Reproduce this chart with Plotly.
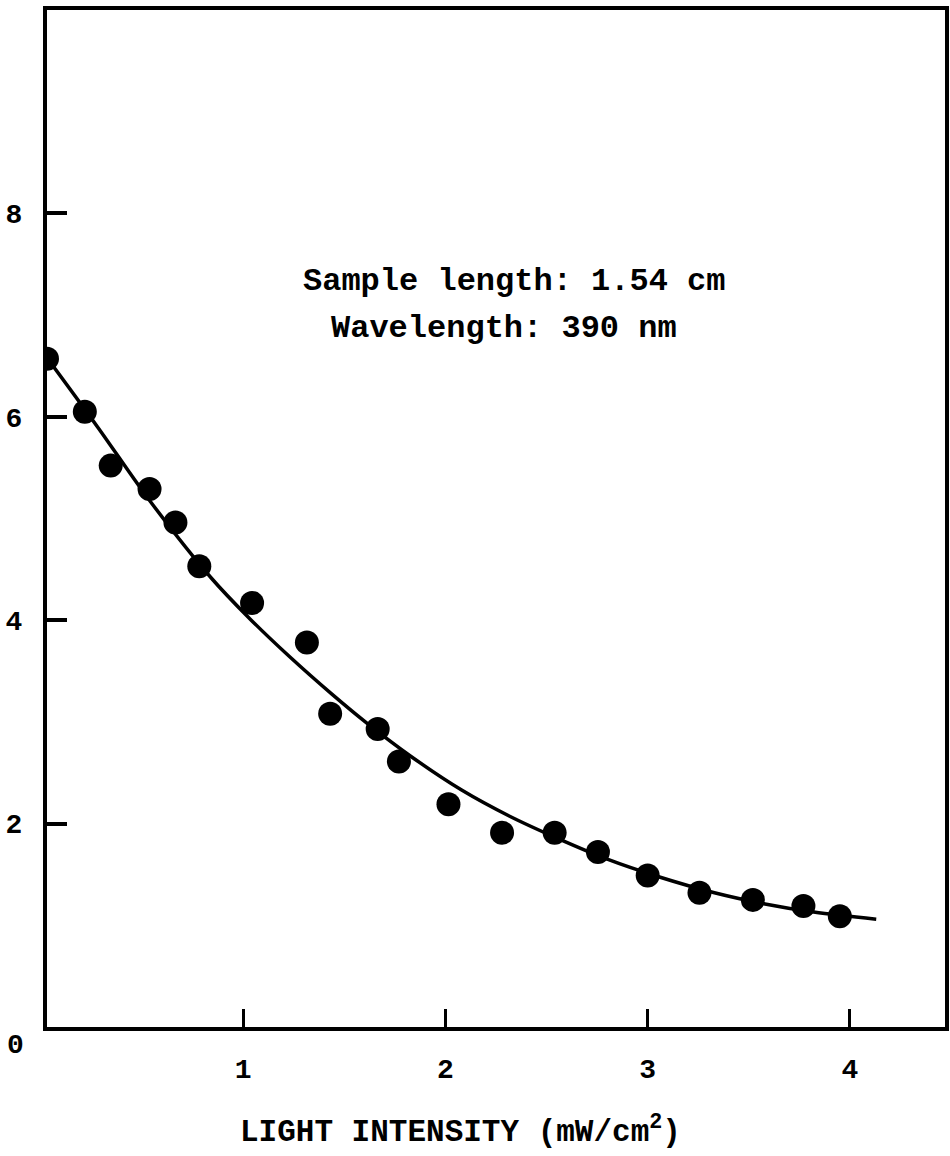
import plotly.graph_objects as go

# Measured data points
x_pts = [0.03, 0.217, 0.345, 0.537, 0.665, 0.783, 1.044, 1.315, 1.43, 1.665, 1.77,
         2.015, 2.28, 2.54, 2.754, 3.0, 3.256, 3.52, 3.77, 3.95]
y_pts = [6.57, 6.05, 5.52, 5.29, 4.96, 4.53, 4.17, 3.78, 3.08, 2.93, 2.61,
         2.19, 1.91, 1.91, 1.72, 1.49, 1.32, 1.25, 1.19, 1.09]

# Fitted curve
x_fit = [0.03, 0.28, 0.54, 0.84, 1.03, 1.23, 1.44, 1.61, 1.83, 2.08, 2.32,
         2.56, 2.80, 3.05, 3.33, 3.58, 3.82, 4.13]
y_fit = [6.58, 5.90, 5.17, 4.42, 4.02, 3.64, 3.27, 2.99, 2.66, 2.33, 2.07,
         1.85, 1.65, 1.48, 1.32, 1.21, 1.13, 1.06]

x_ticks = [1, 2, 3, 4]
x_tick_labels = ["1", "2", "3", "4"]
y_ticks = [2, 4, 6, 8]
y_tick_labels = ["2", "4", "6", "8"]

FONT = "Liberation Mono"

fig = go.Figure()
fig.add_trace(go.Scatter(x=x_fit, y=y_fit, mode="lines",
                         line=dict(color="black", width=3.5, shape="spline", smoothing=1.0),
                         hoverinfo="skip", showlegend=False))
fig.add_trace(go.Scatter(x=x_pts, y=y_pts, mode="markers",
                         marker=dict(color="black", size=24), showlegend=False))

fig.update_layout(
    width=950, height=1156,
    margin=dict(l=47, r=1, t=10, b=129),
    plot_bgcolor="white", paper_bgcolor="white",
    font=dict(family=FONT, color="black"),
    showlegend=False,
)
fig.update_xaxes(range=[0.03, 4.47], tickvals=x_ticks, ticktext=x_tick_labels,
                 ticks="inside", ticklen=18, tickwidth=3, tickcolor="black",
                 showline=True, linewidth=4, linecolor="black", mirror=True,
                 showgrid=False, zeroline=False, ticklabelstandoff=13,
                 tickfont=dict(family=FONT, size=28, color="black", weight="bold"))
fig.update_yaxes(range=[0, 10], tickvals=y_ticks, ticktext=y_tick_labels,
                 ticks="inside", ticklen=20, tickwidth=4, tickcolor="black",
                 showline=True, linewidth=4, linecolor="black", mirror=True,
                 showgrid=False, zeroline=False, ticklabelstandoff=15,
                 tickfont=dict(family=FONT, size=28, color="black", weight="bold"))

fig.add_annotation(x=2.34, y=7.33, xref="x", yref="y", text="Sample length: 1.54 cm",
                   showarrow=False, font=dict(family=FONT, size=32, color="black", weight="bold"))
fig.add_annotation(x=2.29, y=6.87, xref="x", yref="y", text="Wavelength: 390 nm",
                   showarrow=False, font=dict(family=FONT, size=32, color="black", weight="bold"))
fig.add_annotation(x=-0.035, y=-0.018, xref="paper", yref="paper", text="0",
                   showarrow=False, xanchor="center", yanchor="middle",
                   font=dict(family=FONT, size=28, color="black", weight="bold"))
fig.add_annotation(x=0.46, y=-0.101, xref="paper", yref="paper",
                   text="LIGHT INTENSITY (mW/cm<sup>2</sup>)",
                   showarrow=False, xanchor="center", yanchor="middle",
                   font=dict(family=FONT, size=31, color="black", weight="bold"))

fig.write_html("out.html", config={"displayModeBar": False},
               post_script="document.body.style.margin='0';")
